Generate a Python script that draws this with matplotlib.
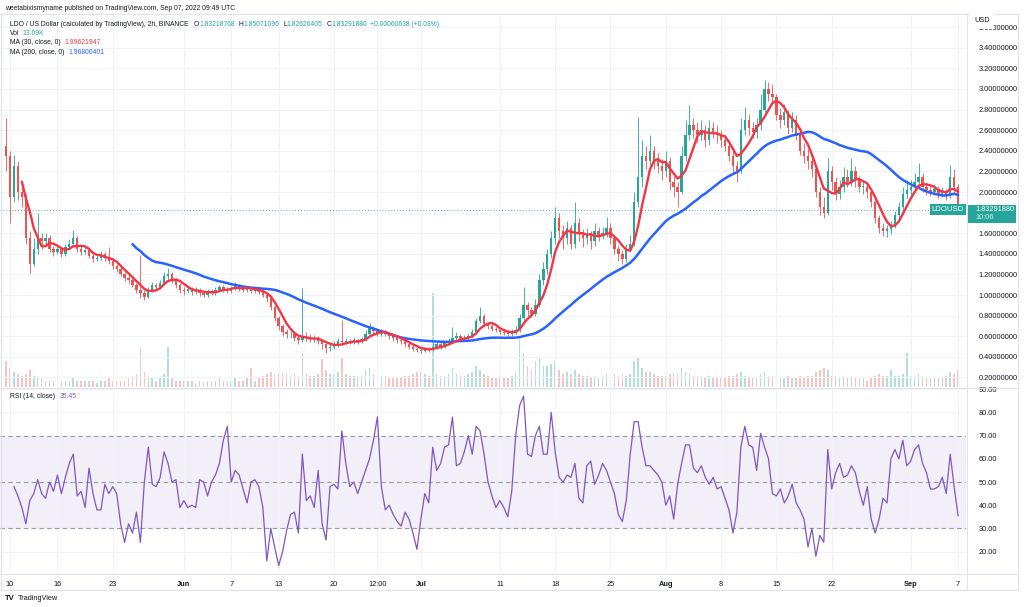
import numpy as np
import pandas as pd
import matplotlib
matplotlib.use('Agg')
import matplotlib.pyplot as plt
import matplotlib.dates as mdates
from matplotlib.lines import Line2D
from matplotlib.patches import Rectangle
from matplotlib.transforms import blended_transform_factory

plt.rcParams['font.family'] = ['Liberation Sans', 'DejaVu Sans']

# LDO/USD, 12h candles, first candle 2022-05-09 12:00
first_open = 2.45
closes = [
    2.35, 1.95, 2.25, 2.00, 1.95, 1.55, 1.30, 1.45, 1.55, 1.52,
    1.55, 1.45, 1.42, 1.45, 1.40, 1.47, 1.50, 1.55, 1.45, 1.42,
    1.44, 1.38, 1.35, 1.36, 1.40, 1.36, 1.33, 1.28, 1.25, 1.20,
    1.17, 1.15, 1.10, 1.05, 1.02, 0.98, 1.05, 1.10, 1.08, 1.12,
    1.18, 1.20, 1.15, 1.10, 1.05, 1.04, 1.06, 1.03, 1.05, 1.02,
    1.00, 1.04, 1.02, 1.05, 1.08, 1.06, 1.04, 1.07, 1.10, 1.06,
    1.05, 1.07, 1.04, 1.05, 1.03, 1.00, 0.97, 0.88, 0.78, 0.70,
    0.64, 0.62, 0.62, 0.58, 0.56, 0.60, 0.58, 0.57, 0.58, 0.55,
    0.52, 0.49, 0.50, 0.52, 0.55, 0.54, 0.55, 0.54, 0.56, 0.55,
    0.57, 0.62, 0.68, 0.65, 0.62, 0.64, 0.62, 0.60, 0.58, 0.56,
    0.55, 0.52, 0.50, 0.48, 0.47, 0.46, 0.48, 0.47, 0.50, 0.52,
    0.50, 0.53, 0.55, 0.58, 0.60, 0.57, 0.58, 0.60, 0.64, 0.75,
    0.80, 0.72, 0.70, 0.67, 0.66, 0.64, 0.63, 0.62, 0.65, 0.66,
    0.78, 0.90, 0.85, 0.82, 0.90, 1.15, 1.25, 1.40, 1.55, 1.75,
    1.62, 1.55, 1.65, 1.50, 1.70, 1.60, 1.55, 1.58, 1.52, 1.62,
    1.58, 1.60, 1.65, 1.55, 1.45, 1.40, 1.35, 1.45, 1.50, 1.90,
    2.15, 2.35, 2.30, 2.40, 2.30, 2.25, 2.20, 2.30, 2.10, 2.05,
    2.00, 2.35, 2.55, 2.65, 2.60, 2.55, 2.60, 2.50, 2.62, 2.58,
    2.55, 2.50, 2.45, 2.35, 2.25, 2.20, 2.60, 2.70, 2.62, 2.58,
    2.65, 2.80, 3.00, 2.95, 2.92, 2.75, 2.70, 2.78, 2.62, 2.70,
    2.55, 2.40, 2.35, 2.30, 2.22, 2.00, 1.85, 1.80, 2.20, 2.10,
    1.98, 2.05, 2.15, 2.10, 2.20, 2.12, 2.05, 2.05, 2.00, 1.90,
    1.75, 1.65, 1.62, 1.64, 1.68, 1.78, 1.85, 1.98, 2.02, 2.05,
    2.10, 2.15, 2.05, 2.02, 2.00, 2.03, 1.98, 2.00, 1.97, 2.15,
    2.05, 1.83,
]
highs = [
    2.72, 2.40, 2.36, 2.30, 2.10, 1.98, 1.62, 1.55, 1.80, 1.60,
    1.60, 1.58, 1.48, 1.50, 1.47, 1.50, 1.54, 1.63, 1.57, 1.48,
    1.47, 1.46, 1.40, 1.39, 1.43, 1.42, 1.47, 1.35, 1.30, 1.28,
    1.22, 1.20, 1.17, 1.12, 1.39, 1.05, 1.08, 1.13, 1.12, 1.15,
    1.22, 1.26, 1.22, 1.17, 1.12, 1.08, 1.09, 1.08, 1.08, 1.07,
    1.04, 1.06, 1.06, 1.08, 1.10, 1.10, 1.08, 1.09, 1.13, 1.11,
    1.08, 1.09, 1.08, 1.07, 1.06, 1.04, 1.01, 0.98, 0.90, 0.80,
    0.72, 0.67, 0.65, 0.64, 0.60, 1.07, 0.64, 0.62, 0.61, 0.60,
    0.56, 0.53, 0.52, 0.55, 0.58, 0.76, 0.58, 0.57, 0.59, 0.58,
    0.59, 0.66, 0.73, 0.70, 0.67, 0.67, 0.66, 0.63, 0.61, 0.59,
    0.58, 0.57, 0.54, 0.52, 0.50, 0.49, 0.50, 0.50, 0.53, 0.55,
    0.54, 0.55, 0.58, 0.69, 0.64, 0.62, 0.61, 0.63, 0.67, 0.78,
    0.88, 0.82, 0.74, 0.72, 0.69, 0.68, 0.66, 0.65, 0.67, 0.70,
    0.82, 1.08, 0.93, 0.88, 0.96, 1.20, 1.32, 1.45, 1.62, 1.85,
    1.80, 1.68, 1.72, 1.68, 1.90, 1.75, 1.64, 1.65, 1.62, 1.70,
    1.66, 1.66, 1.76, 1.70, 1.58, 1.48, 1.44, 1.50, 1.58, 2.00,
    2.73, 2.50, 2.45, 2.55, 2.45, 2.38, 2.32, 2.40, 2.34, 2.16,
    2.10, 2.45, 2.70, 2.84, 2.72, 2.68, 2.70, 2.65, 2.70, 2.68,
    2.65, 2.60, 2.55, 2.50, 2.40, 2.30, 2.72, 2.83, 2.76, 2.68,
    2.72, 2.95, 3.09, 3.07, 3.05, 2.95, 2.82, 2.85, 2.80, 2.78,
    2.75, 2.62, 2.48, 2.42, 2.35, 2.25, 2.05, 1.95, 2.33, 2.25,
    2.15, 2.12, 2.24, 2.22, 2.33, 2.25, 2.16, 2.12, 2.08, 2.02,
    1.92, 1.78, 1.70, 1.68, 1.72, 1.82, 1.90, 2.05, 2.12, 2.12,
    2.18, 2.28, 2.18, 2.10, 2.06, 2.08, 2.06, 2.05, 2.03, 2.26,
    2.22, 2.08,
]
lows = [
    2.20, 1.70, 1.90, 1.92, 1.85, 1.50, 1.21, 1.28, 1.40, 1.45,
    1.48, 1.42, 1.38, 1.40, 1.37, 1.38, 1.45, 1.47, 1.42, 1.39,
    1.40, 1.36, 1.32, 1.33, 1.34, 1.33, 1.30, 1.25, 1.22, 1.18,
    1.14, 1.12, 1.08, 1.02, 0.97, 0.95, 0.97, 1.03, 1.05, 1.06,
    1.10, 1.15, 1.12, 1.07, 1.02, 1.00, 1.02, 1.00, 1.01, 0.99,
    0.98, 0.98, 1.00, 1.00, 1.03, 1.03, 1.02, 1.02, 1.05, 1.04,
    1.03, 1.03, 1.02, 1.02, 1.01, 0.98, 0.93, 0.85, 0.75, 0.66,
    0.60, 0.58, 0.58, 0.55, 0.52, 0.54, 0.55, 0.54, 0.54, 0.52,
    0.48, 0.44, 0.46, 0.48, 0.50, 0.51, 0.52, 0.52, 0.52, 0.52,
    0.53, 0.55, 0.60, 0.62, 0.60, 0.60, 0.60, 0.57, 0.55, 0.53,
    0.52, 0.50, 0.48, 0.46, 0.45, 0.44, 0.45, 0.45, 0.46, 0.48,
    0.48, 0.49, 0.51, 0.54, 0.56, 0.55, 0.55, 0.56, 0.58, 0.62,
    0.73, 0.70, 0.67, 0.65, 0.64, 0.62, 0.61, 0.60, 0.60, 0.62,
    0.64, 0.75, 0.80, 0.79, 0.80, 0.88, 1.10, 1.20, 1.36, 1.50,
    1.55, 1.45, 1.50, 1.45, 1.46, 1.52, 1.47, 1.50, 1.45, 1.48,
    1.52, 1.54, 1.56, 1.50, 1.40, 1.33, 1.30, 1.32, 1.42, 1.48,
    1.85, 2.05, 2.22, 2.25, 2.22, 2.18, 2.12, 2.15, 2.02, 1.95,
    1.85, 1.98, 2.30, 2.50, 2.52, 2.48, 2.50, 2.44, 2.46, 2.52,
    2.48, 2.44, 2.40, 2.30, 2.18, 2.10, 2.18, 2.55, 2.55, 2.52,
    2.52, 2.60, 2.78, 2.88, 2.85, 2.70, 2.62, 2.65, 2.56, 2.58,
    2.50, 2.36, 2.28, 2.22, 2.15, 1.95, 1.78, 1.75, 1.78, 2.02,
    1.92, 1.93, 2.00, 2.05, 2.06, 2.05, 2.00, 1.98, 1.94, 1.85,
    1.70, 1.60, 1.57, 1.56, 1.59, 1.65, 1.74, 1.82, 1.94, 1.97,
    2.00, 2.05, 2.00, 1.97, 1.96, 1.97, 1.94, 1.95, 1.92, 1.94,
    1.98, 1.80,
]
volume = [
    12, 9, 7, 6, 5, 6, 8, 5, 4, 4,
    3, 3, 3, 3, 3, 3, 3, 4, 3, 3,
    3, 3, 3, 2, 3, 3, 4, 3, 3, 3,
    3, 4, 5, 6, 19, 7, 5, 4, 3, 4,
    6, 19, 4, 3, 3, 3, 3, 3, 2, 3,
    2, 3, 3, 3, 4, 3, 3, 3, 4, 3,
    3, 4, 9, 3, 4, 5, 6, 7, 6, 6,
    7, 6, 5, 6, 5, 16, 6, 5, 5, 6,
    13, 8, 6, 6, 7, 14, 6, 5, 5, 5,
    5, 8, 9, 6, 5, 5, 5, 4, 4, 4,
    4, 5, 5, 6, 7, 7, 6, 5, 44, 6,
    5, 5, 6, 9, 6, 5, 5, 6, 7, 10,
    8, 6, 5, 4, 4, 4, 4, 4, 5, 7,
    23, 16, 10, 8, 12, 14, 10, 10, 11, 12,
    8, 6, 7, 6, 8, 6, 5, 5, 4, 5,
    4, 5, 6, 5, 6, 5, 6, 5, 6, 12,
    14, 9, 7, 7, 6, 5, 5, 5, 6, 7,
    6, 9, 7, 6, 5, 5, 5, 4, 5, 4,
    4, 4, 4, 5, 5, 6, 7, 5, 4, 4,
    4, 6, 7, 5, 5, 5, 4, 4, 5, 4,
    4, 5, 4, 5, 5, 7, 8, 9, 8, 5,
    5, 4, 5, 4, 5, 4, 4, 4, 3, 4,
    5, 6, 5, 5, 8, 5, 5, 6, 16, 5,
    5, 6, 5, 4, 4, 4, 4, 4, 5, 7,
    6, 8,
]
# RSI(14) from 2022-05-10 12:00 on
rsi = [
    48, 44, 39, 32, 42, 45, 51, 45,
    43, 50, 46, 53, 45, 52, 58, 62, 44, 46,
    39, 56, 45, 38, 38, 49, 45, 48, 45, 32,
    24, 32, 28, 37, 24, 50, 65, 49, 48, 52,
    63, 58, 50, 51, 39, 42, 39, 40, 39, 51,
    50, 44, 50, 53, 58, 68, 74, 50, 55, 53,
    47, 41, 50, 51, 48, 39, 16, 30, 22, 14,
    20, 29, 36, 37, 28, 62, 42, 44, 39, 55,
    32, 25, 48, 49, 47, 72, 58, 48, 50, 45,
    50, 55, 60, 68, 78, 48, 38, 40, 36, 33,
    31, 37, 34, 28, 21, 34, 45, 41, 65, 55,
    58, 65, 66, 78, 57, 58, 63, 70, 62, 74,
    72, 62, 50, 44, 39, 42, 39, 35, 46, 70,
    83, 87, 62, 61, 70, 74, 62, 62, 80, 63,
    52, 50, 53, 52, 58, 43, 41, 57, 59, 49,
    53, 58, 55, 50, 45, 36, 33, 42, 62, 76,
    76, 65, 57, 57, 55, 53, 50, 40, 44, 34,
    49, 58, 66, 66, 56, 54, 57, 52, 49, 52,
    47, 48, 43, 38, 28, 37, 65, 74, 66, 65,
    55, 71, 65, 60, 45, 44, 47, 41, 44, 49,
    41, 38, 34, 22, 30, 18, 27, 24, 64, 47,
    54, 58, 52, 53, 57, 54, 46, 40, 48, 34,
    28, 34, 43, 41, 60, 64, 60, 68, 57, 59,
    64, 66, 58, 54, 47, 47, 48, 52, 45, 62,
    48, 35.45,
]

tick_dates = ['2022-05-10 00:00', '2022-05-16 00:00', '2022-05-23 00:00', '2022-06-01 00:00',
              '2022-06-07 00:00', '2022-06-13 00:00', '2022-06-20 00:00', '2022-06-25 12:00',
              '2022-07-01 00:00', '2022-07-11 00:00', '2022-07-18 00:00', '2022-07-25 00:00',
              '2022-08-01 00:00', '2022-08-08 00:00', '2022-08-15 00:00', '2022-08-22 00:00',
              '2022-09-01 00:00', '2022-09-07 00:00']
tick_labels = ['10', '16', '23', 'Jun', '7', '13', '20', '12:00', 'Jul', '11',
               '18', '25', 'Aug', '8', '15', '22', 'Sep', '7']
month_labels = ['Jun', 'Jul', 'Aug', 'Sep']
price_ticks = [0.2, 0.4, 0.6, 0.8, 1.0, 1.2, 1.4, 1.6, 1.8, 2.0,
               2.2, 2.4, 2.6, 2.8, 3.0, 3.2, 3.4, 3.6]
rsi_ticks = [20, 30, 40, 50, 60, 70, 80, 90]

UP = '#26a69a'
DOWN = '#ef5350'
TEXT = '#131722'
GRID = '#f0f3fa'
FRAME = '#e0e3eb'
W, H = 1024, 607

closes = np.array(closes)
highs = np.array(highs)
lows = np.array(lows)
volume = np.array(volume, dtype=float)
opens = np.r_[first_open, closes[:-1]]
times = pd.date_range('2022-05-09 12:00', periods=len(closes), freq='12h')
x = mdates.date2num(times)
x_rsi = x[len(x) - len(rsi):]
ma30 = pd.Series(closes).rolling(5).mean()    # 30 x 2h = 5 x 12h
ma200 = pd.Series(closes).rolling(33).mean()  # 200 x 2h ~ 33 x 12h
tick_x = mdates.date2num(pd.to_datetime(tick_dates, format='%Y-%m-%d %H:%M'))
last = closes[-1]


def px_rect(x0, y0, x1, y1):
    return [x0 / W, 1 - y1 / H, (x1 - x0) / W, (y1 - y0) / H]


fig = plt.figure(figsize=(W / 100, H / 100), dpi=100)
fig.patch.set_facecolor('white')

ax = fig.add_axes(px_rect(0, 14, 966, 387))
ax_rsi = fig.add_axes(px_rect(0, 388, 966, 573), sharex=ax)
ax_vol = ax.twinx()
ax.set_zorder(ax_vol.get_zorder() + 1)
ax.patch.set_visible(False)

x_left = mdates.date2num(pd.Timestamp('2022-05-08 17:30'))
x_right = mdates.date2num(pd.Timestamp('2022-09-08 00:00'))
ax.set_xlim(x_left, x_right)
ax.set_ylim(0.107, 3.728)
ax_vol.set_ylim(0, 175)
ax_rsi.set_ylim(10.8, 90.5)

up = closes >= opens
colors = np.where(up, UP, DOWN)

# volume
ax_vol.bar(x, volume, width=0.2, color=colors, alpha=0.35, lw=0)
ax_vol.set_yticks([])
for s in ax_vol.spines.values():
    s.set_visible(False)

# candles
ax.vlines(x, lows, highs, colors=colors, lw=0.6, zorder=3)
body = np.maximum(np.abs(closes - opens), 0.006)
ax.bar(x, body, bottom=np.minimum(opens, closes), width=0.3, color=colors, lw=0, zorder=3)

# moving averages
ax.plot(x, ma200, color='#2962ff', lw=1.8, zorder=4, solid_capstyle='round')
ax.plot(x, ma30, color='#f23645', lw=1.7, zorder=5, solid_capstyle='round')

# last price line and labels
ax.axhline(last, color=UP, lw=0.7, ls=(0, (1, 2)), alpha=0.8, zorder=2)
tr = blended_transform_factory(ax.transAxes, ax.transData)
ax.text(0.998, last, 'LDOUSD', transform=tr, ha='right', va='center', fontsize=5.6,
        color='white', zorder=6,
        bbox=dict(boxstyle='square,pad=0.25', fc=UP, ec='none'))

# grids
for a in (ax, ax_rsi):
    for s in a.spines.values():
        s.set_visible(False)
    a.set_xticks(tick_x)
    a.grid(True, axis='x', color=GRID, lw=0.8)
    a.tick_params(axis='x', length=0)
ax.tick_params(axis='x', labelbottom=False)
ax.set_yticks(price_ticks)
ax.grid(True, axis='y', color=GRID, lw=0.8)
ax.yaxis.tick_right()
# the label under the last-price box is hidden, as on the scale
ax.yaxis.set_major_formatter(
    plt.FuncFormatter(lambda v, p: '' if abs(v - last) < 0.08 else f'{v:.8f}'))
ax.tick_params(axis='y', length=0, pad=9, labelsize=5.3, labelcolor=TEXT)

# RSI pane
ax_rsi.axhspan(30, 70, color='#7e57c2', alpha=0.09, lw=0)
for lvl in (30, 50, 70):
    ax_rsi.axhline(lvl, color='#787b86', lw=0.8, ls=(0, (4, 3)), alpha=0.75)
ax_rsi.plot(x_rsi, rsi, color='#7e57c2', lw=0.9, zorder=4)
ax_rsi.set_yticks(rsi_ticks)
ax_rsi.grid(True, axis='y', color=GRID, lw=0.8)
ax_rsi.yaxis.tick_right()
ax_rsi.yaxis.set_major_formatter(plt.FuncFormatter(lambda v, p: f'{v:.2f}'))
ax_rsi.tick_params(axis='y', length=0, pad=9, labelsize=5.3, labelcolor=TEXT)
ax_rsi.set_xticks(tick_x)
ax_rsi.set_xticklabels(tick_labels)
ax_rsi.tick_params(axis='x', pad=6, labelsize=5.3, labelcolor=TEXT)
for lab in ax_rsi.get_xticklabels():
    if lab.get_text() in month_labels:
        lab.set_fontweight('bold')


# frame lines
def hline(y, x0=0, x1=1018):
    fig.add_artist(Line2D([x0 / W, x1 / W], [1 - y / H, 1 - y / H], color=FRAME, lw=0.8))


def vline(xp, y0=14, y1=590):
    fig.add_artist(Line2D([xp / W, xp / W], [1 - y0 / H, 1 - y1 / H], color=FRAME, lw=0.8))


hline(14)
hline(387.5)
hline(573.5)
hline(590)
vline(966.5)
vline(1018)
vline(0.5)

# price box on the right scale, drawn above the tick labels
fig.canvas.draw()
renderer = fig.canvas.get_renderer()
y_last = ax.transData.transform((x[-1], last))[1]
fig.add_artist(Rectangle((968 / W, (y_last - 13) / H), 48 / W, 18 / H,
                         transform=fig.transFigure, fc=UP, ec='none', zorder=10))
fig.text(975 / W, (y_last + 0.5) / H, '1.83291880', color='white', fontsize=5.3,
         va='center', zorder=11)
fig.text(975 / W, (y_last - 8) / H, '10:06', color='#d8f0ed', fontsize=5.3,
         va='center', zorder=11)

# USD label over the top of the scale
fig.text(974 / W, 1 - 21 / H, 'USD', color=TEXT, fontsize=5.3, va='center', zorder=11,
         bbox=dict(boxstyle='square,pad=0.6', fc='white', ec='none'))


def pieces(xp, yp, parts, size):
    for s, c, gap in parts:
        t = fig.text(xp / W, 1 - yp / H, s, color=c, fontsize=size, va='center', ha='left')
        xp += t.get_window_extent(renderer).width + gap


fig.text(5 / W, 1 - 8 / H, 'weetabixismyname published on TradingView.com, Sep 07, 2022 09:49 UTC',
         color=TEXT, fontsize=4.9, va='center')
pieces(10, 24, [('LDO / US Dollar (calculated by TradingView), 2h, BINANCE', TEXT, 5),
                ('O', TEXT, 0), ('1.83218768', UP, 4),
                ('H', TEXT, 0), ('1.85071096', UP, 4),
                ('L', TEXT, 0), ('1.82626405', UP, 4),
                ('C', TEXT, 0), ('1.83291880', UP, 3),
                ('+0.00060638 (+0.03%)', UP, 0)], 4.9)
pieces(10, 33.5, [('Vol', TEXT, 3), ('13.09K', UP, 0)], 4.9)
pieces(10, 43, [('MA (30, close, 0)', TEXT, 4), ('1.99621947', '#f23645', 0)], 4.9)
pieces(10, 52.5, [('MA (200, close, 0)', TEXT, 4), ('1.96800401', '#2962ff', 0)], 4.9)
pieces(10, 396, [('RSI (14, close)', TEXT, 5), ('35.45', '#7e57c2', 0)], 4.9)

# TradingView mark
fig.text(5 / W, 1 - 598 / H, 'TV', color=TEXT, fontsize=5.5, fontweight='bold', va='center')
fig.text(18 / W, 1 - 598 / H, 'TradingView', color=TEXT, fontsize=5.3, va='center')

fig.savefig('out.png', dpi=100, facecolor='white')
